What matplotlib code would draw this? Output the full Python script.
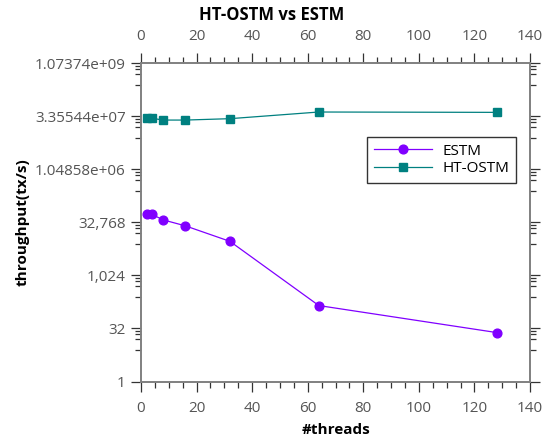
import numpy as np
import matplotlib
matplotlib.use("Agg")
import matplotlib.pyplot as plt
from matplotlib.ticker import FixedLocator, FixedFormatter, MultipleLocator, NullFormatter

# Throughput measurements (transactions per second) by thread count
threads = [2, 4, 8, 16, 32, 64, 128]
estm = [55800, 55000, 38600, 26100, 9500, 143, 24.5]
ht_ostm = [30.0e6, 29.5e6, 26.3e6, 26.3e6, 28.8e6, 44.5e6, 43.5e6]

y_tick_values = [1, 32, 1024, 32768, 1048576, 33554432, 1073741824]
y_tick_labels = ["1", "32", "1,024", "32,768", "1.04858e+06", "3.35544e+07", "1.07374e+09"]
x_tick_values = [0, 20, 40, 60, 80, 100, 120, 140]

plt.rcParams["font.family"] = ["Open Sans", "DejaVu Sans"]

W, H = 544, 440
fig = plt.figure(figsize=(W / 100, H / 100), dpi=100)
ax = fig.add_axes([141 / W, 58.5 / H, (530 - 141) / W, (381.5 - 63.3) / H])

ax.plot(threads, estm, color="#8000ff", lw=0.9, marker="o", ms=6.3,
        label="ESTM", zorder=3)
ax.plot(threads, ht_ostm, color="#008080", lw=0.9, marker="s", ms=6.0,
        label="HT-OSTM", zorder=3)

ax.set_yscale("log", base=2)
ax.set_ylim(1, 2 ** 30)
ax.set_xlim(0, 140)

# Major ticks every factor of 32, with a few minor ticks below each major
ax.yaxis.set_major_locator(FixedLocator(y_tick_values))
ax.yaxis.set_major_formatter(FixedFormatter(y_tick_labels))
minor = []
for v in y_tick_values[1:]:
    for f in (0.25, 0.5, 0.7, 0.85):
        minor.append(v * f)
ax.yaxis.set_minor_locator(FixedLocator(minor))
ax.yaxis.set_minor_formatter(NullFormatter())

ax.xaxis.set_major_locator(FixedLocator(x_tick_values))
ax.xaxis.set_minor_locator(MultipleLocator(5))

for s in ax.spines.values():
    s.set_color("#808080")
    s.set_linewidth(1.4)

ax.tick_params(axis="both", which="major", direction="out", length=7, width=0.9,
               color="#333333", labelsize=11, labelcolor="#555555",
               top=True, right=True, labeltop=True, labelright=False)
ax.tick_params(axis="both", which="minor", direction="out", length=4.5, width=0.9,
               color="#333333", top=True, right=True)
ax.tick_params(axis="x", which="major", pad=7)
ax.tick_params(axis="y", which="major", pad=4)

ax.set_xlabel("#threads", fontsize=11, fontweight="bold", labelpad=5)
ax.set_ylabel("throughput(tx/s)", fontsize=11, fontweight="bold", labelpad=4)
fig.text(0.5, 1 - 15 / H, "HT-OSTM vs ESTM", ha="center", va="center",
         fontsize=12, fontweight="bold")

leg = ax.legend(loc="upper left", bbox_to_anchor=((367 - 141) / 389, 1 - (136.7 - 63.3) / 318.2),
                fontsize=11, frameon=True, fancybox=False, borderpad=0.45,
                handlelength=3.8, handletextpad=0.7, labelspacing=0.15,
                borderaxespad=0)
leg.get_frame().set_edgecolor("black")
leg.get_frame().set_linewidth(1.0)

fig.savefig("out.png", dpi=100)
